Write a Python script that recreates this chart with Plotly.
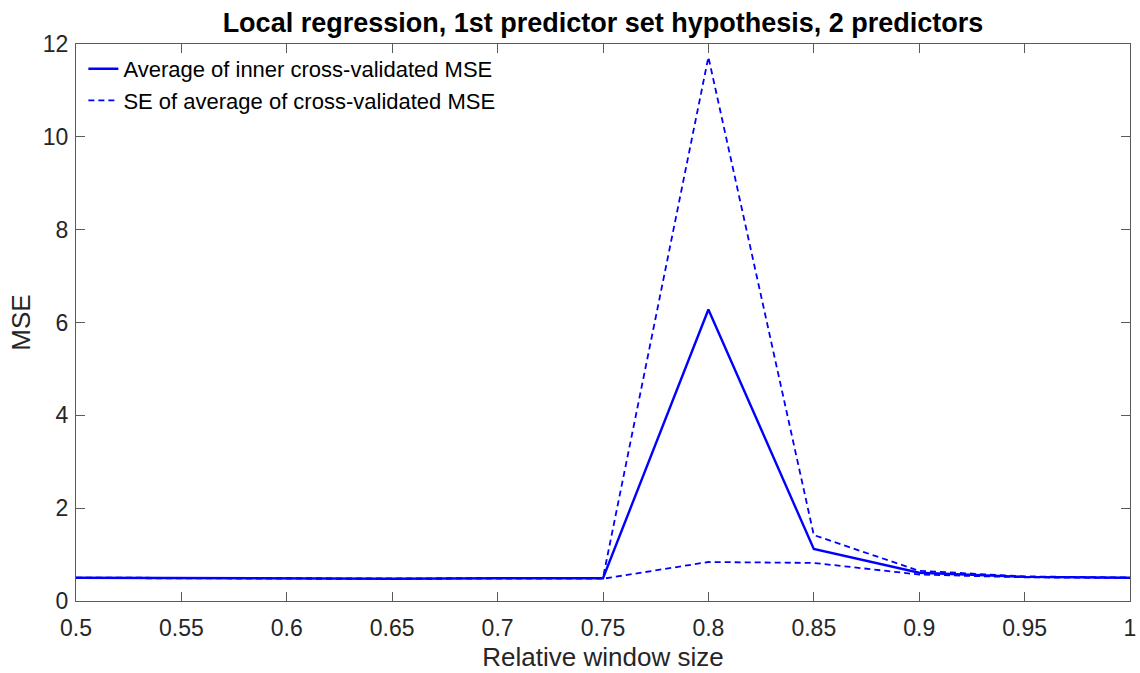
import plotly.graph_objects as go

# Relative window sizes and cross-validation results
window_size = [0.5, 0.55, 0.6, 0.65, 0.7, 0.75, 0.8, 0.85, 0.9, 0.95, 1.0]
mse_mean = [0.50, 0.49, 0.49, 0.48, 0.49, 0.49, 6.28, 1.12, 0.61, 0.52, 0.50]
mse_se = [0.005, 0.005, 0.005, 0.005, 0.005, 0.01, 5.44, 0.30, 0.04, 0.01, 0.005]

x_ticks = [0.5, 0.55, 0.6, 0.65, 0.7, 0.75, 0.8, 0.85, 0.9, 0.95, 1.0]
x_tick_labels = ["0.5", "0.55", "0.6", "0.65", "0.7", "0.75", "0.8", "0.85", "0.9", "0.95", "1"]
y_ticks = [0, 2, 4, 6, 8, 10, 12]

upper = [m + s for m, s in zip(mse_mean, mse_se)]
lower = [m - s for m, s in zip(mse_mean, mse_se)]

blue = "#0000ff"
axis_col = "#5a5a5a"
text_col = "#262626"
font_family = "Liberation Sans, Arial, sans-serif"
dash_style = "6px,4px"

fig = go.Figure()
fig.add_trace(go.Scatter(
    x=window_size, y=mse_mean, mode="lines",
    line=dict(color=blue, width=2.4),
    name="Average of inner cross-validated MSE",
))
fig.add_trace(go.Scatter(
    x=window_size, y=upper, mode="lines",
    line=dict(color=blue, width=1.8, dash=dash_style),
    name="SE of average of cross-validated MSE",
))
fig.add_trace(go.Scatter(
    x=window_size, y=lower, mode="lines",
    line=dict(color=blue, width=1.8, dash=dash_style),
    showlegend=False,
))

axis_common = dict(
    showgrid=False, zeroline=False,
    showline=True, linecolor=axis_col, linewidth=1,
    mirror="ticks", ticks="inside", ticklen=9, tickcolor=axis_col,
    tickfont=dict(size=23, color=text_col, family=font_family),
    automargin=False,
)

fig.update_layout(
    width=1140, height=673,
    margin=dict(l=76, r=10, t=44, b=72),
    paper_bgcolor="white", plot_bgcolor="white",
    font=dict(family=font_family, color=text_col),
    title=dict(
        text="<b>Local regression, 1st predictor set hypothesis, 2 predictors</b>",
        x=0.5, xanchor="center", xref="paper",
        y=1 - 23 / 673, yanchor="middle", yref="container",
        font=dict(size=27, color="black", family=font_family),
    ),
    xaxis=dict(
        range=[0.5, 1.0], tickvals=x_ticks, ticktext=x_tick_labels,
        ticklabelstandoff=6,
        title=dict(text="Relative window size", font=dict(size=26, color=text_col), standoff=8),
        **axis_common,
    ),
    yaxis=dict(
        range=[0, 12], tickvals=y_ticks,
        ticklabelstandoff=2,
        title=dict(text="MSE", font=dict(size=26, color=text_col), standoff=4),
        **axis_common,
    ),
    legend=dict(
        x=0.007, y=0.993, xanchor="left", yanchor="top",
        bgcolor="rgba(0,0,0,0)", borderwidth=0,
        font=dict(size=22, color="black", family=font_family),
        itemwidth=30, tracegroupgap=0,
    ),
)

fig.write_html("out.html")
